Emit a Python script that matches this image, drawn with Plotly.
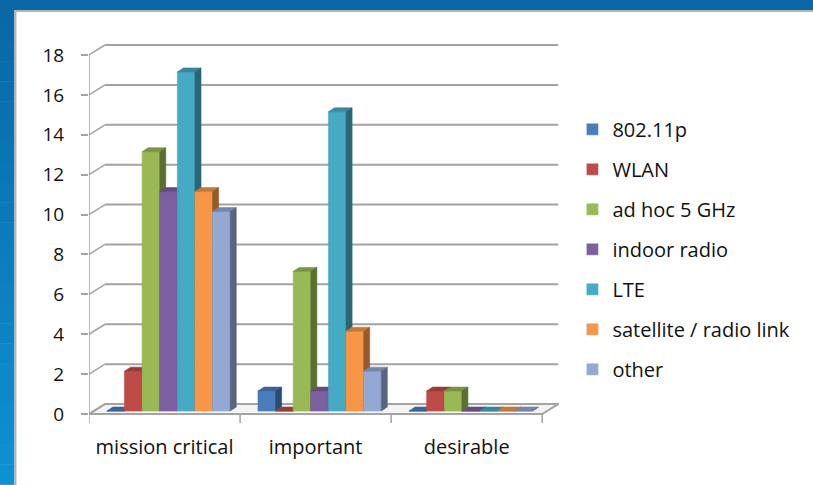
import plotly.graph_objects as go

# ---- data -------------------------------------------------------------
categories = ["mission critical", "important", "desirable"]
series_names = ["802.11p", "WLAN", "ad hoc 5 GHz", "indoor radio", "LTE",
                "satellite / radio link", "other"]
v_80211p = [0, 1, 0]
v_wlan = [2, 0, 1]
v_adhoc = [13, 7, 1]
v_indoor = [11, 1, 0]
v_lte = [17, 15, 0]
v_satellite = [11, 4, 0]
v_other = [10, 2, 0]
y_ticks = [0, 2, 4, 6, 8, 10, 12, 14, 16, 18]

series_values = [v_80211p, v_wlan, v_adhoc, v_indoor, v_lte, v_satellite, v_other]
colors = ["#4A7DBB", "#BE4B48", "#98B954", "#7D60A0", "#46AAC5", "#F79646", "#93A9D4"]


def shade(hex_color, f):
    h = hex_color.lstrip("#")
    r, g, b = (int(h[i:i + 2], 16) for i in (0, 2, 4))
    return "rgb(%d,%d,%d)" % (int(r * f), int(g * f), int(b * f))


# ---- pseudo-3D geometry (axis units) ----------------------------------
W = 0.1166          # bar width (x units)
FX, FY = 0.0265, 0.15   # bar front offset from the front plane
BX, BY = 0.04, 0.2      # bar depth
DX, DY = 0.106, 0.5     # wall / floor depth
NCAT = len(categories)
NSER = len(series_names)
X_MAX = NCAT + DX + 0.005
Y_MIN, Y_MAX = -0.6, 18.7

GRID = "#A3A3A3"
fig = go.Figure()

# bars: front, top and side faces drawn bar by bar so neighbours overlap correctly
for c in range(NCAT):
    for k in range(NSER):
        v = series_values[k][c]
        col = colors[k]
        left = c + 0.5 - NSER * W / 2 + k * W + FX
        right = left + W
        top = FY + v
        faces = [
            ([left, right, right, left, left], [FY, FY, top, top, FY], col),
            ([left, right, right + BX, left + BX, left],
             [top, top, top + BY, top + BY, top], shade(col, 0.8)),
            ([right, right + BX, right + BX, right, right],
             [FY, FY + BY, top + BY, top, FY], shade(col, 0.6)),
        ]
        for xs, ys, fc in faces:
            fig.add_trace(go.Scatter(
                x=xs, y=ys, mode="lines", fill="toself", fillcolor=fc,
                line=dict(width=0.6, color=fc), hoverinfo="skip",
                showlegend=False))

# legend entries
for k in range(NSER):
    fig.add_trace(go.Bar(x=[None], y=[None], name=series_names[k],
                         marker=dict(color=colors[k]), legendgroup=str(k)))

shapes = []
# back wall gridlines and left wall diagonals
for t in y_ticks:
    if t > 0:
        shapes.append(dict(type="line", xref="x", yref="y", x0=DX, y0=t + DY,
                           x1=NCAT + DX, y1=t + DY,
                           line=dict(color=GRID, width=2), layer="below"))
    shapes.append(dict(type="line", xref="x", yref="y", x0=0, y0=t,
                       x1=DX, y1=t + DY, line=dict(color=GRID, width=1.5),
                       layer="below"))
# floor
shapes.append(dict(type="path", xref="x", yref="y",
                   path="M 0 0 L %f 0 L %f %f L %f %f Z" % (NCAT, NCAT + DX, DY, DX, DY),
                   fillcolor="#F4F4F4", line=dict(color=GRID, width=2), layer="below"))
# front value axis
shapes.append(dict(type="line", xref="x", yref="y", x0=0, y0=0, x1=0, y1=y_ticks[-1],
                   line=dict(color=GRID, width=1.5), layer="below"))
# category tick marks
for c in range(NCAT + 1):
    shapes.append(dict(type="line", xref="x", yref="y", x0=c, y0=0, x1=c, y1=-0.45,
                       line=dict(color=GRID, width=1.5), layer="below"))

# slide frame: blue border on top and left with a grey rule
L_M, R_M, T_M, B_M = 89, 254.4, 40.5, 58.5
PW = 813 - L_M - R_M
PH = 485 - T_M - B_M


def px_x(px):
    return (px - L_M) / PW


def px_y(py):
    return (485 - B_M - py) / PH


strips = 24
for i in range(strips):
    y0 = 485 * i / strips
    y1 = 485 * (i + 1) / strips
    f = i / (strips - 1)
    r = int(10 + (14 - 10) * f)
    g = int(104 + (145 - 104) * f)
    b = int(166 + (210 - 166) * f)
    shapes.append(dict(type="rect", xref="paper", yref="paper",
                       x0=px_x(-1), x1=px_x(14.5), y0=px_y(y1 + 0.5), y1=px_y(y0),
                       fillcolor="rgb(%d,%d,%d)" % (r, g, b), line=dict(width=0)))
shapes.append(dict(type="rect", xref="paper", yref="paper",
                   x0=px_x(-1), x1=px_x(814), y0=px_y(9.3), y1=px_y(-1),
                   fillcolor="#0B68A6", line=dict(width=0)))
shapes.append(dict(type="rect", xref="paper", yref="paper",
                   x0=px_x(14.5), x1=px_x(814), y0=px_y(11.5), y1=px_y(9.3),
                   fillcolor="#B4B4B4", line=dict(width=0)))
shapes.append(dict(type="rect", xref="paper", yref="paper",
                   x0=px_x(14.5), x1=px_x(16.5), y0=px_y(486), y1=px_y(9.3),
                   fillcolor="#B4B4B4", line=dict(width=0)))

FONT = "Open Sans"
fig.update_layout(
    width=813, height=485,
    margin=dict(l=L_M, r=R_M, t=T_M, b=B_M),
    paper_bgcolor="white", plot_bgcolor="white",
    font=dict(family=FONT, size=20, color="#111111"),
    shapes=shapes,
    showlegend=True,
    legend=dict(x=px_x(572), y=px_y(109.5), xanchor="left", yanchor="top",
                tracegroupgap=11, font=dict(family=FONT, size=20, color="#111111"),
                bgcolor="rgba(0,0,0,0)"),
    xaxis=dict(range=[0, X_MAX], showgrid=False, zeroline=False, showline=False,
               tickvals=[c + 0.5 for c in range(NCAT)], ticktext=categories,
               ticks="", ticklabelstandoff=7, fixedrange=True,
               tickfont=dict(family=FONT, size=20, color="#111111")),
    yaxis=dict(range=[Y_MIN, Y_MAX], showgrid=False, zeroline=False, showline=False,
               tickvals=y_ticks, ticks="outside", ticklen=7, tickcolor=GRID,
               tickwidth=1.5, ticklabelstandoff=13, fixedrange=True,
               tickfont=dict(family=FONT, size=19, color="#111111")),
)

fig.write_html("out.html")
